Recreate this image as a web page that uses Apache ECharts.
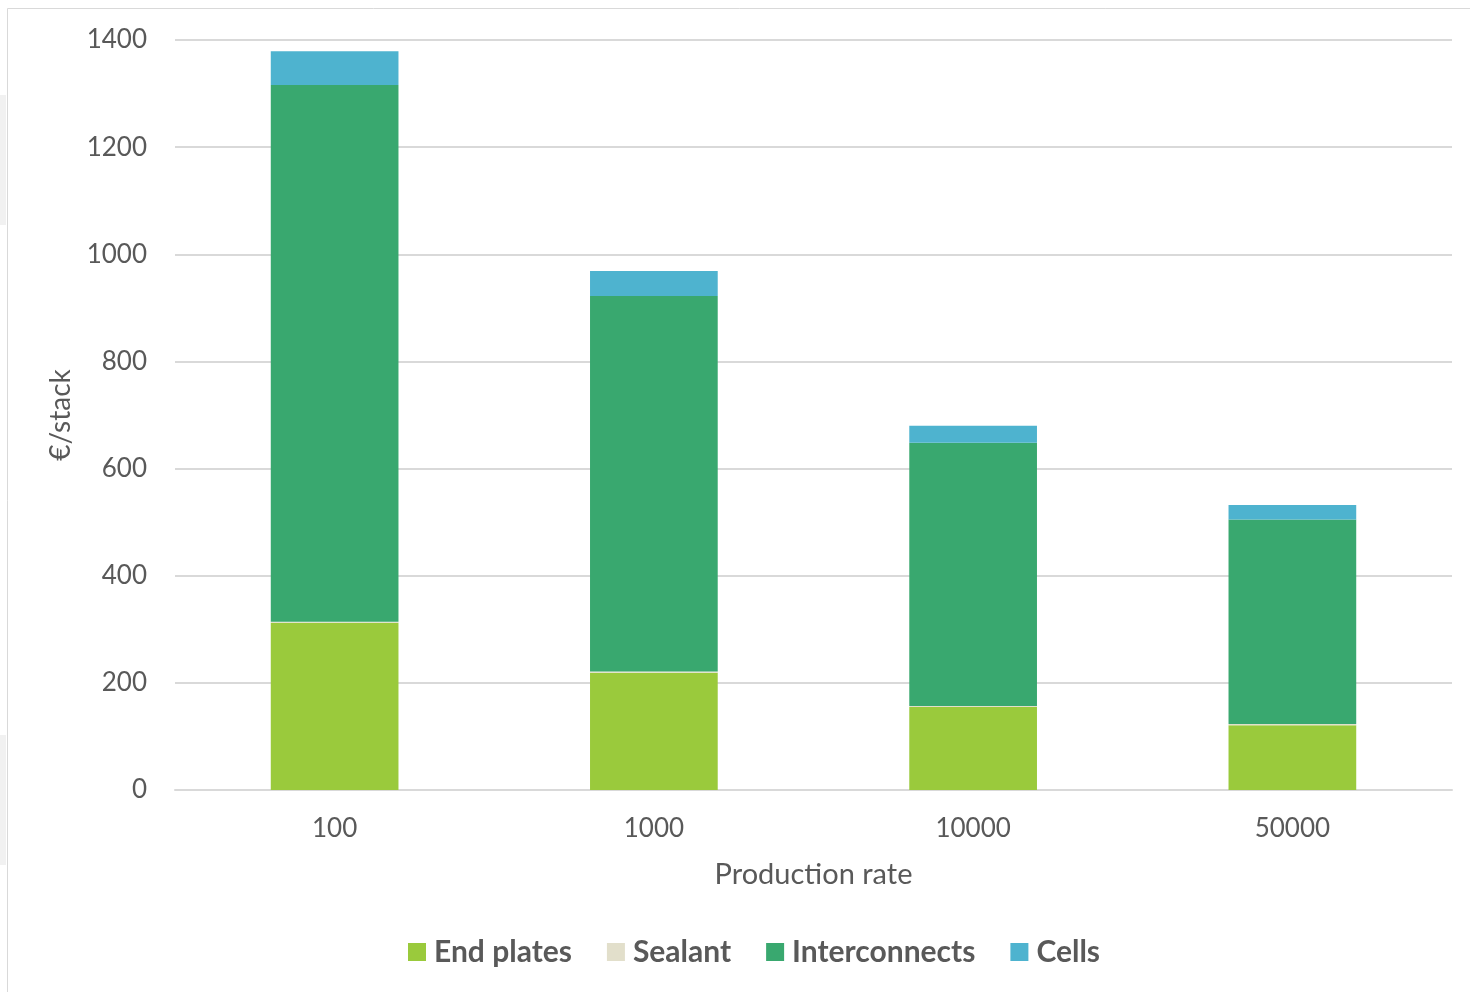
<!DOCTYPE html>
<html>
<head>
<meta charset="utf-8">
<style>
  html, body { margin: 0; padding: 0; background: #fff; }
  #chart { width: 1470px; height: 992px; }
</style>
<script src="https://cdn.jsdelivr.net/npm/echarts@6/dist/echarts.min.js"></script>
</head>
<body>
<div id="chart"></div>
<script>
// Stack cost breakdown by production rate (€/stack)
const categories = ['100', '1000', '10000', '50000'];
const endPlates = [312, 219, 155, 121];
const sealant = [2, 2, 2, 2];
const interconnects = [1002, 701, 491, 382];
const cells = [63, 47, 32, 27];
const yTicks = { min: 0, max: 1400, interval: 200 };

const font = 'Lato, "Open Sans", sans-serif';
const chart = echarts.init(document.getElementById('chart'), null, { renderer: 'canvas' });

function barSeries(name, data, color) {
  return {
    name: name,
    type: 'bar',
    stack: 'total',
    data: data,
    barWidth: '40%',
    itemStyle: { color: color },
    emphasis: { disabled: true }
  };
}

chart.setOption({
  animation: false,
  backgroundColor: '#ffffff',
  graphic: [
    { type: 'rect', shape: { x: 0, y: 95, width: 6, height: 130 }, style: { fill: '#f1f1f1' }, z: -1 },
    { type: 'rect', shape: { x: 0, y: 735, width: 6, height: 130 }, style: { fill: '#f1f1f1' }, z: -1 },
    { type: 'rect', shape: { x: 7.5, y: 8.5, width: 1480, height: 1000 }, style: { fill: 'none', stroke: '#d9d9d9', lineWidth: 1 }, z: -1 }
  ],
  grid: { left: 175, right: 18, top: 40, bottom: 202, containLabel: false },
  legend: {
    top: 932,
    left: 403,
    itemWidth: 18,
    itemHeight: 18,
    itemGap: 35,
    icon: 'rect',
    textStyle: { fontFamily: font, fontSize: 30, fontWeight: 'bold', color: '#595959', padding: [0, 0, 0, 3] },
    data: ['End plates', 'Sealant', 'Interconnects', 'Cells']
  },
  xAxis: {
    type: 'category',
    data: categories,
    name: 'Production rate',
    nameLocation: 'middle',
    nameGap: 70,
    nameTextStyle: { fontFamily: font, fontSize: 29, color: '#595959' },
    axisLine: { lineStyle: { color: '#d9d9d9', width: 2 } },
    axisTick: { show: false },
    axisLabel: { fontFamily: font, fontSize: 26, color: '#595959', margin: 26 }
  },
  yAxis: {
    type: 'value',
    min: yTicks.min,
    max: yTicks.max,
    interval: yTicks.interval,
    name: '€/stack',
    nameLocation: 'middle',
    nameRotate: 90,
    nameGap: 100,
    nameTextStyle: { fontFamily: font, fontSize: 28, color: '#595959' },
    axisLine: { show: false },
    axisTick: { show: false },
    axisLabel: { fontFamily: font, fontSize: 26, color: '#595959', margin: 28, formatter: (v) => String(v) },
    splitLine: { lineStyle: { color: '#d9d9d9', width: 2 } }
  },
  series: [
    barSeries('End plates', endPlates, '#9aca3c'),
    barSeries('Sealant', sealant, '#e2dfcb'),
    barSeries('Interconnects', interconnects, '#39a86f'),
    barSeries('Cells', cells, '#4eb3cf')
  ]
});
</script>
</body>
</html>
